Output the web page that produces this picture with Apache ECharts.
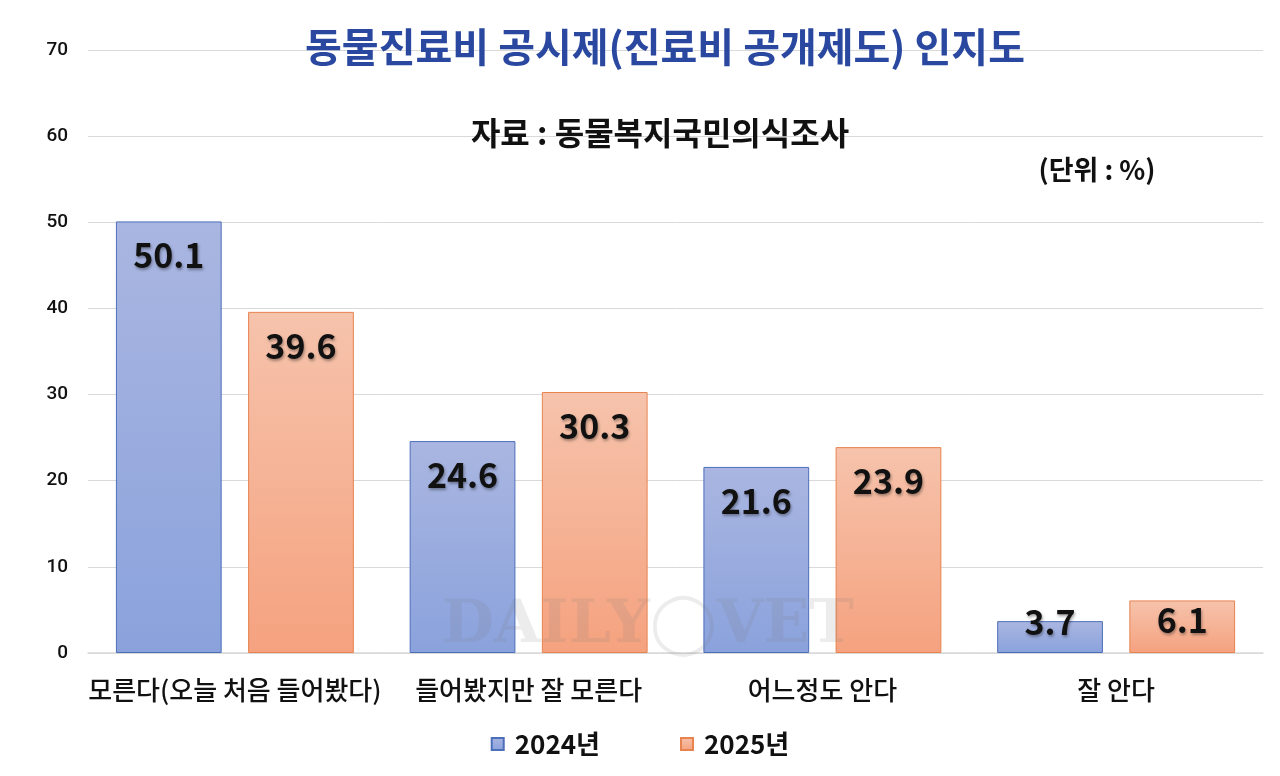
<!DOCTYPE html>
<html>
<head>
<meta charset="utf-8">
<script src="https://cdn.jsdelivr.net/npm/echarts@6/dist/echarts.min.js"></script>
<style>
  html, body { margin: 0; padding: 0; background: #fff; }
  #chart { width: 1280px; height: 776px; }
</style>
</head>
<body>
<div id="chart"></div>
<script>
// 동물진료비 공시제 인지도
var categories = ['모른다(오늘 처음 들어봤다)', '들어봤지만 잘 모른다', '어느정도 안다', '잘 안다'];
var seriesNames = ['2024년', '2025년'];
var values2024 = [50.1, 24.6, 21.6, 3.7];
var values2025 = [39.6, 30.3, 23.9, 6.1];
var yTicks = [0, 10, 20, 30, 40, 50, 60, 70];

var font = '"Noto Sans CJK KR", "Noto Sans", sans-serif';
var chart = echarts.init(document.getElementById('chart'));

function grad(top, bottom) {
  return new echarts.graphic.LinearGradient(0, 0, 0, 1, [
    { offset: 0, color: top },
    { offset: 1, color: bottom }
  ]);
}

// 작은 막대는 라벨을 막대 윗부분에 걸치게
function labelFor(v) {
  if (v < 5) return { position: 'top', distance: -18 };
  if (v < 10) return { position: 'insideTop', distance: 3 };
  return { position: 'insideTop', distance: 17 };
}

function makeData(vals) {
  return vals.map(function (v) {
    return { value: v, label: labelFor(v) };
  });
}

var barLabel = {
  show: true,
  fontFamily: font,
  fontSize: 34,
  fontWeight: 'bold',
  color: '#111',
  textShadowColor: 'rgba(0,0,0,0.35)',
  textShadowBlur: 3,
  textShadowOffsetX: 1,
  textShadowOffsetY: 2
};

var option = {
  backgroundColor: '#fff',
  animation: false,
  textStyle: { fontFamily: font },
  title: [
    {
      text: '동물진료비 공시제(진료비 공개제도) 인지도',
      left: 660, top: 22, textAlign: 'center',
      textStyle: { fontFamily: font, fontSize: 40, fontWeight: 'bold', color: '#2a48a0' }
    },
    {
      text: '자료 : 동물복지국민의식조사',
      left: 655, top: 112, textAlign: 'center',
      textStyle: { fontFamily: font, fontSize: 32, fontWeight: 'bold', color: '#111' }
    },
    {
      text: '(단위 : %)',
      left: 1092, top: 151, textAlign: 'center',
      textStyle: { fontFamily: font, fontSize: 27, fontWeight: 'bold', color: '#111' }
    }
  ],
  graphic: [
    {
      type: 'text',
      left: 442, top: 596,
      z: 100,
      style: {
        text: 'DAILY◯VET',
        font: 'bold 60px "DejaVu Serif", "Liberation Serif", serif',
        fill: 'rgba(120,120,120,0.14)'
      }
    }
  ],
  legend: {
    data: seriesNames,
    bottom: 14,
    left: 'center',
    itemWidth: 12,
    itemHeight: 12,
    itemGap: 80,
    icon: 'rect',
    textStyle: { fontFamily: font, fontSize: 26, fontWeight: 'bold', color: '#111', padding: [0, 0, 0, 6] }
  },
  grid: { left: 88, right: 17, top: 50, bottom: 123 },
  xAxis: {
    type: 'category',
    data: categories,
    axisLine: { lineStyle: { color: '#d9d9d9', width: 1.5 } },
    axisTick: { show: false },
    axisLabel: {
      interval: 0, margin: 24,
      fontFamily: font, fontSize: 26, fontWeight: 500, color: '#111'
    }
  },
  yAxis: {
    type: 'value',
    min: yTicks[0],
    max: yTicks[yTicks.length - 1],
    interval: 10,
    axisLine: { show: false },
    axisTick: { show: false },
    splitLine: { lineStyle: { color: '#d9d9d9', width: 1 } },
    axisLabel: {
      margin: 20,
      fontFamily: 'Roboto, "Noto Sans", sans-serif', fontSize: 19, fontWeight: 500, color: '#111'
    }
  },
  series: [
    {
      name: seriesNames[0],
      type: 'bar',
      barWidth: '36%',
      barGap: '25%',
      itemStyle: {
        color: grad('#aab6e1', '#8aa2dc'),
        borderColor: '#4c6fba',
        borderWidth: 1
      },
      label: barLabel,
      data: makeData(values2024)
    },
    {
      name: seriesNames[1],
      type: 'bar',
      barWidth: '36%',
      itemStyle: {
        color: grad('#f6c3ac', '#f5a27f'),
        borderColor: '#e8834f',
        borderWidth: 1
      },
      label: barLabel,
      data: makeData(values2025)
    }
  ]
};

chart.setOption(option);
</script>
</body>
</html>
